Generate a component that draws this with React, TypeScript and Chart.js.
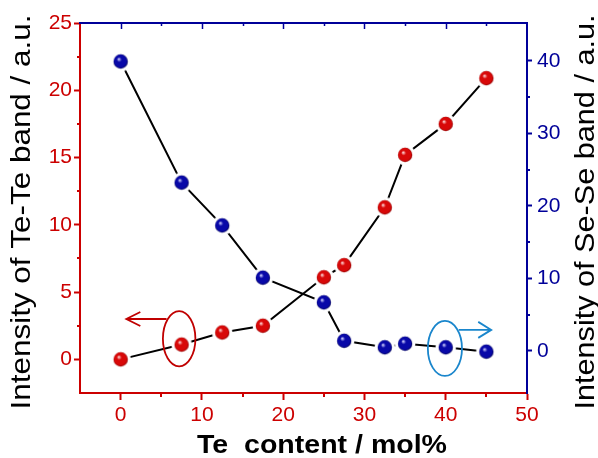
import React, { useEffect, useRef } from "react";
import { Chart, registerables } from "chart.js";

Chart.register(...registerables);

// ---- data ----
const teContent = [0, 7.5, 12.5, 17.5, 25, 27.5, 32.5, 35, 40, 45];
const teTeIntensity = [0, 1.1, 2.0, 2.5, 6.1, 7.0, 11.3, 15.2, 17.5, 20.9];
const seSeIntensity = [39.9, 23.2, 17.3, 10.1, 6.7, 1.4, 0.5, 1.0, 0.5, -0.1];

const xTitle = "Te  content / mol%";
const yLeftTitle = "Intensity of Te-Te band / a.u.";
const yRightTitle = "Intensity of Se-Se band / a.u.";

const RED = "#cc0000";
const NAVY = "#000099";
const CYAN = "#1a86cc";
const FONT = "'Liberation Sans', Arial, sans-serif";

function sphere(base: string, dark: string, light: string) {
  const c = document.createElement("canvas");
  c.width = 22;
  c.height = 22;
  const g = c.getContext("2d")!;
  g.fillStyle = "#ffffff";
  g.beginPath();
  g.arc(11, 11, 10.3, 0, Math.PI * 2);
  g.fill();
  const grad = g.createRadialGradient(9, 8.5, 0.3, 11, 11, 7.4);
  grad.addColorStop(0, light);
  grad.addColorStop(0.3, base);
  grad.addColorStop(0.8, base);
  grad.addColorStop(1, dark);
  g.fillStyle = grad;
  g.beginPath();
  g.arc(11, 11, 7.2, 0, Math.PI * 2);
  g.fill();
  return c;
}

function fitText(ctx: CanvasRenderingContext2D, text: string, target: number) {
  const w = ctx.measureText(text).width;
  const k = target / w;
  ctx.scale(k, 1);
  ctx.fillText(text, 0, 0);
}

const decor = {
  id: "decor",
  afterDraw(chart: any) {
    const { ctx, chartArea, scales } = chart;
    const xs = scales.x;
    const yl = scales.y;
    const yr = scales.y1;
    ctx.save();
    // top axis
    ctx.strokeStyle = NAVY;
    ctx.lineWidth = 2;
    ctx.beginPath();
    ctx.moveTo(chartArea.left - 1, chartArea.top);
    ctx.lineTo(chartArea.right + 1, chartArea.top);
    ctx.stroke();
    ctx.lineWidth = 1.5;
    for (let v = 0; v <= 45; v += 5) {
      const px = Math.round(xs.getPixelForValue(v)) + 0.5;
      const len = v % 10 === 0 ? 6 : 3;
      ctx.beginPath();
      ctx.moveTo(px, chartArea.top);
      ctx.lineTo(px, chartArea.top + len);
      ctx.stroke();
    }
    // minor ticks bottom
    ctx.strokeStyle = RED;
    ctx.lineWidth = 2;
    for (let v = 5; v <= 45; v += 10) {
      const px = Math.round(xs.getPixelForValue(v));
      ctx.beginPath();
      ctx.moveTo(px, chartArea.bottom);
      ctx.lineTo(px, chartArea.bottom + 4);
      ctx.stroke();
    }
    // minor ticks left
    for (let v = 2.5; v <= 22.5; v += 5) {
      const py = Math.round(yl.getPixelForValue(v));
      ctx.beginPath();
      ctx.moveTo(chartArea.left, py);
      ctx.lineTo(chartArea.left - 3, py);
      ctx.stroke();
    }
    // minor ticks right
    ctx.strokeStyle = NAVY;
    for (let v = 5; v <= 35; v += 10) {
      const py = Math.round(yr.getPixelForValue(v));
      ctx.beginPath();
      ctx.moveTo(chartArea.right, py);
      ctx.lineTo(chartArea.right + 3, py);
      ctx.stroke();
    }

    // annotations: red ellipse + left arrow
    ctx.lineWidth = 1.8;
    ctx.strokeStyle = "#c00000";
    const rcx = xs.getPixelForValue(7.2);
    const rcy = yl.getPixelForValue(1.53);
    const rrx = xs.getPixelForValue(9.2) - rcx;
    const rry = rcy - yl.getPixelForValue(3.58);
    ctx.beginPath();
    ctx.ellipse(rcx, rcy, rrx, rry, 0, 0, Math.PI * 2);
    ctx.stroke();
    const ray = yl.getPixelForValue(3.0);
    const rax0 = xs.getPixelForValue(5.65);
    const rax1 = xs.getPixelForValue(0.7);
    ctx.beginPath();
    ctx.moveTo(rax0, ray);
    ctx.lineTo(rax1, ray);
    ctx.moveTo(rax1 + 14, ray - 7);
    ctx.lineTo(rax1, ray);
    ctx.lineTo(rax1 + 14, ray + 7);
    ctx.stroke();

    // blue ellipse + right arrow
    ctx.strokeStyle = CYAN;
    const bcx = xs.getPixelForValue(39.9);
    const bcy = yr.getPixelForValue(0.34);
    const brx = xs.getPixelForValue(42.0) - bcx;
    const bry = bcy - yr.getPixelForValue(4.13);
    ctx.beginPath();
    ctx.ellipse(bcx, bcy, brx, bry, 0, 0, Math.PI * 2);
    ctx.stroke();
    const bay = yr.getPixelForValue(2.9);
    const bax0 = xs.getPixelForValue(41.6);
    const bax1 = xs.getPixelForValue(45.6);
    ctx.beginPath();
    ctx.moveTo(bax0, bay);
    ctx.lineTo(bax1, bay);
    ctx.moveTo(bax1 - 13, bay - 8);
    ctx.lineTo(bax1, bay);
    ctx.lineTo(bax1 - 13, bay + 8);
    ctx.stroke();

    // titles
    ctx.fillStyle = "#000000";
    ctx.textAlign = "center";
    ctx.textBaseline = "middle";
    ctx.font = `28px ${FONT}`;
    const midY = 212;
    ctx.save();
    ctx.translate(22, midY);
    ctx.rotate(-Math.PI / 2);
    fitText(ctx, yLeftTitle, 395);
    ctx.restore();
    ctx.save();
    ctx.translate(586, midY);
    ctx.rotate(-Math.PI / 2);
    fitText(ctx, yRightTitle, 395);
    ctx.restore();
    ctx.font = `bold 25px ${FONT}`;
    ctx.textBaseline = "alphabetic";
    ctx.save();
    ctx.translate(322, 453);
    fitText(ctx, xTitle, 250);
    ctx.restore();
    ctx.restore();
  },
};

export default function App() {
  const ref = useRef<HTMLCanvasElement | null>(null);
  useEffect(() => {
    if (!ref.current) return;
    const redBall = sphere("#d80808", "#8a0000", "#ffd8d8");
    const blueBall = sphere("#0808a8", "#000050", "#d0d0ff");
    const tickFont = { family: FONT, size: 21 };
    const chart = new Chart(ref.current, {
      type: "line",
      data: {
        datasets: [
          {
            label: "Te-Te",
            data: teContent.map((x, i) => ({ x, y: teTeIntensity[i] })),
            yAxisID: "y",
            borderColor: "#000000",
            borderWidth: 2,
            pointStyle: redBall as any,
            pointRadius: 8,
            tension: 0,
          },
          {
            label: "Se-Se",
            data: teContent.map((x, i) => ({ x, y: seSeIntensity[i] })),
            yAxisID: "y1",
            borderColor: "#000000",
            borderWidth: 2,
            pointStyle: blueBall as any,
            pointRadius: 8,
            tension: 0,
          },
        ],
      },
      options: {
        responsive: false,
        animation: false,
        devicePixelRatio: 1,
        layout: { padding: { top: 23, left: 0, right: 0, bottom: 0 } },
        plugins: { legend: { display: false }, tooltip: { enabled: false } },
        scales: {
          x: {
            type: "linear",
            position: "bottom",
            min: -5,
            max: 50,
            ticks: { stepSize: 10, color: RED, font: tickFont, padding: 3 },
            grid: { drawOnChartArea: false, drawTicks: true, tickLength: 7, tickColor: RED, tickWidth: 2 },
            border: { color: RED, width: 2 },
            afterBuildTicks: (s: any) => {
              s.ticks = s.ticks.filter((t: any) => t.value >= 0 && Math.abs(t.value % 10) < 1e-9);
            },
            afterFit: (s: any) => {
              s.height = 65;
            },
          },
          y: {
            type: "linear",
            position: "left",
            min: -2.5,
            max: 25,
            ticks: { stepSize: 5, color: RED, font: tickFont, padding: 2 },
            grid: { drawOnChartArea: false, drawTicks: true, tickLength: 6, tickColor: RED, tickWidth: 2 },
            border: { color: RED, width: 2 },
            afterBuildTicks: (s: any) => {
              s.ticks = s.ticks.filter((t: any) => t.value >= 0 && Math.abs(t.value % 5) < 1e-9);
            },
            afterFit: (s: any) => {
              s.width = 80;
            },
          },
          y1: {
            type: "linear",
            position: "right",
            min: -5.8,
            max: 45.2,
            ticks: { stepSize: 10, color: NAVY, font: tickFont, padding: 5 },
            grid: { drawOnChartArea: false, drawTicks: true, tickLength: 5, tickColor: NAVY, tickWidth: 2 },
            border: { color: NAVY, width: 2 },
            afterBuildTicks: (s: any) => {
              s.ticks = s.ticks.filter((t: any) => t.value >= 0 && Math.abs(t.value % 10) < 1e-9);
            },
            afterFit: (s: any) => {
              s.width = 71;
            },
          },
        },
      },
      plugins: [decor],
    });
    return () => chart.destroy();
  }, []);
  return (
    <div style={{ position: "absolute", left: 0, top: 0, width: 598, height: 458, background: "#ffffff" }}>
      <canvas ref={ref} width={598} height={458} style={{ display: "block" }} />
    </div>
  );
}
